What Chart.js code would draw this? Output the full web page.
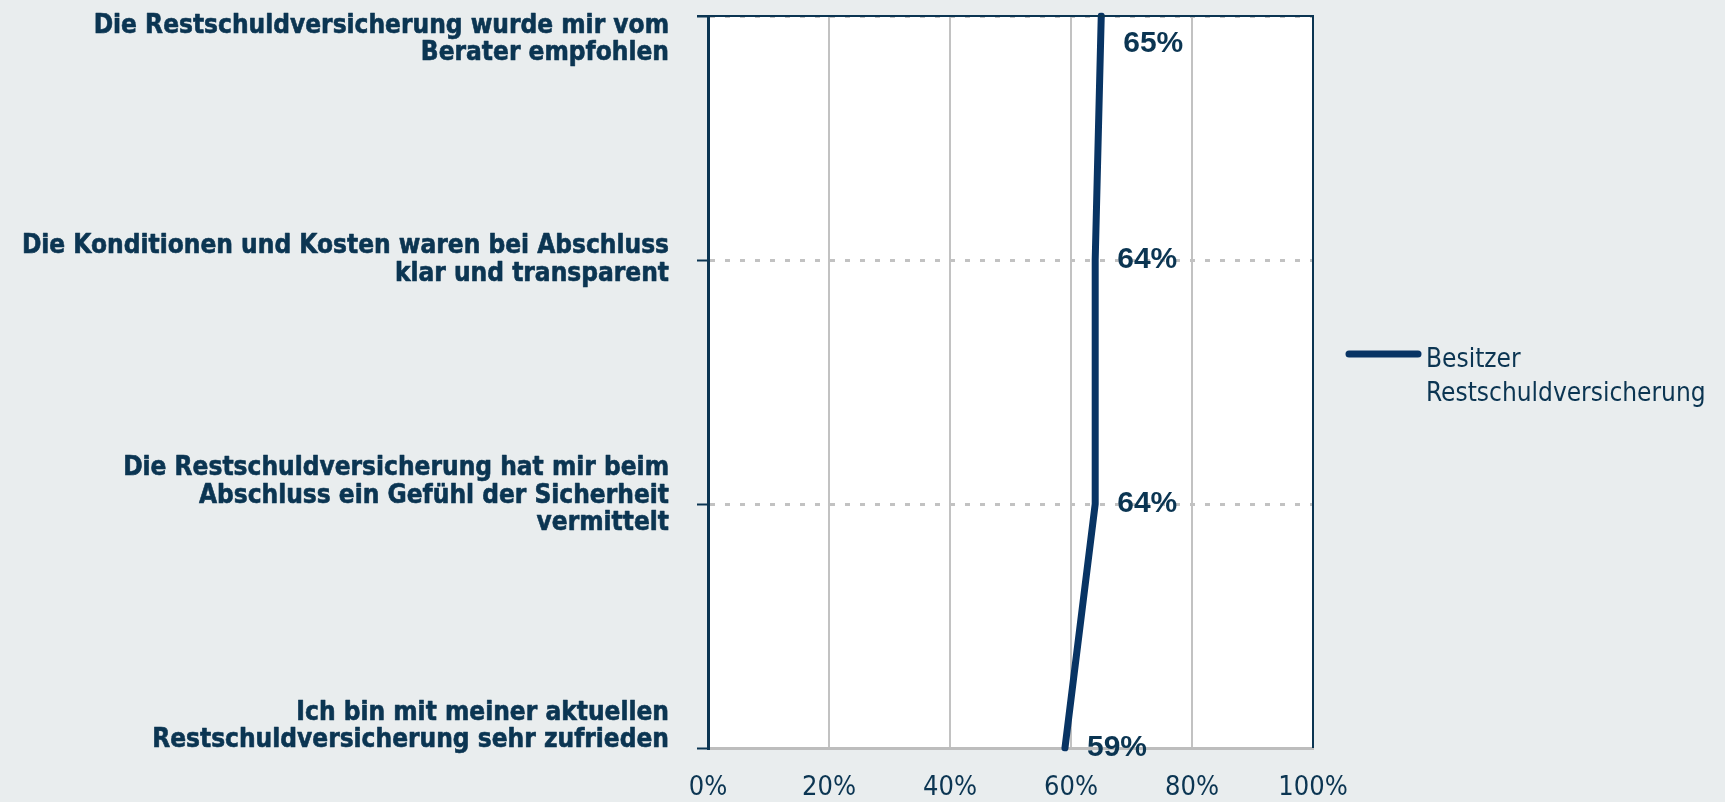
<!DOCTYPE html>
<html>
<head>
<meta charset="utf-8">
<script src="https://cdn.jsdelivr.net/npm/chart.js@4/dist/chart.umd.min.js"></script>
<style>
  body { margin: 0; background: #e9edee; }
  #wrap { width: 1725px; height: 802px; }
</style>
</head>
<body>
<div id="wrap"><canvas id="myChart" width="1725" height="802"></canvas></div>
<script>
// DATA
const categories = [
  ['Die Restschuldversicherung wurde mir vom', 'Berater empfohlen'],
  ['Die Konditionen und Kosten waren bei Abschluss', 'klar und transparent'],
  ['Die Restschuldversicherung hat mir beim', 'Abschluss ein Gefühl der Sicherheit', 'vermittelt'],
  ['Ich bin mit meiner aktuellen', 'Restschuldversicherung sehr zufrieden']
];
const seriesName = ['Besitzer', 'Restschuldversicherung'];
const besitzer = [65, 64, 64, 59];
const xTickValues = [0, 20, 40, 60, 80, 100];

const navy = '#0b3552';
const lineColor = '#083464';
const grey = '#c2c2c2';

// PLUGIN - plot background, borders, labels, legend
const extras = {
  id: 'extras',
  beforeDraw(chart) {
    const { ctx, chartArea: a } = chart;
    ctx.save();
    ctx.fillStyle = '#ffffff';
    ctx.fillRect(a.left, a.top, a.right - a.left, a.bottom - a.top);
    ctx.restore();
  },
  afterDatasetsDraw(chart) {
    const { ctx, chartArea: a } = chart;
    const meta = chart.getDatasetMeta(0);
    ctx.save();
    ctx.font = 'bold 30px "Liberation Sans", Arial, sans-serif';
    ctx.fillStyle = navy;
    ctx.textAlign = 'left';
    ctx.textBaseline = 'middle';
    meta.data.forEach((pt, i) => {
      let y = Math.max(pt.y, a.top + 28);
      ctx.fillText(besitzer[i] + '%', pt.x + 22, y);
    });
    ctx.restore();
  },
  afterDraw(chart) {
    const { ctx, chartArea: a } = chart;
    ctx.save();
    // top + right border
    ctx.strokeStyle = navy;
    ctx.lineWidth = 2;
    ctx.beginPath();
    ctx.moveTo(a.left - 11, a.top);
    ctx.lineTo(a.right, a.top);
    ctx.lineTo(a.right, a.bottom);
    ctx.stroke();

    // category labels
    const yScale = chart.scales.y;
    const lh = 27.5;
    ctx.font = 'bold 26px "DejaVu Sans Condensed", "DejaVu Sans", sans-serif';
    ctx.fillStyle = navy;
    ctx.strokeStyle = navy;
    ctx.lineWidth = 0.6;
    ctx.lineJoin = 'round';
    ctx.textAlign = 'right';
    ctx.textBaseline = 'middle';
    categories.forEach((lines, i) => {
      const yc = yScale.getPixelForTick(i);
      let top = yc - lines.length * lh / 2 - (lines.length > 2 ? 8 : 0);
      top = Math.max(top, 12);
      top = Math.min(top, a.bottom + 6 - lines.length * lh);
      lines.forEach((t, j) => {
        ctx.fillText(t, 669, top + lh * j + lh / 2);
        ctx.strokeText(t, 669, top + lh * j + lh / 2);
      });
    });

    // legend
    ctx.strokeStyle = lineColor;
    ctx.lineWidth = 7;
    ctx.lineCap = 'round';
    ctx.beginPath();
    ctx.moveTo(1349, 354);
    ctx.lineTo(1418, 354);
    ctx.stroke();
    ctx.font = '26px "DejaVu Sans Condensed", "DejaVu Sans", sans-serif';
    ctx.fillStyle = navy;
    ctx.textAlign = 'left';
    ctx.fillText(seriesName[0], 1426, 360);
    ctx.fillText(seriesName[1], 1426, 394);
    ctx.restore();
  }
};

// CHART
let myChart = document.getElementById('myChart').getContext('2d');
window.line = new Chart(myChart, {
  type: 'line',
  data: {
    labels: categories,
    datasets: [{
      label: seriesName.join(' '),
      data: besitzer,
      borderColor: lineColor,
      borderWidth: 7,
      borderCapStyle: 'round',
      pointRadius: 0,
      tension: 0,
      fill: false
    }]
  },
  options: {
    indexAxis: 'y',
    responsive: false,
    animation: false,
    layout: { padding: { left: 0, right: 412, top: 16, bottom: 0 } },
    plugins: {
      legend: { display: false },
      tooltip: { enabled: false }
    },
    scales: {
      x: {
        type: 'linear',
        min: 0,
        max: 100,
        afterBuildTicks: (scale) => { scale.ticks = xTickValues.map(v => ({ value: v })); },
        afterFit: (scale) => { scale.height = 54; },
        ticks: {
          autoSkip: false,
          maxRotation: 0,
          padding: 24,
          color: navy,
          font: { family: '"DejaVu Sans Condensed", "DejaVu Sans", sans-serif', size: 27 },
          callback: (v) => v + '%'
        },
        grid: { color: grey, lineWidth: 2, drawTicks: false },
        border: { color: '#bdbdbd', width: 3 }
      },
      y: {
        type: 'category',
        offset: false,
        afterFit: (scale) => { scale.width = 708; },
        ticks: { autoSkip: false, color: 'rgba(0,0,0,0)', font: { size: 10 } },
        grid: {
          color: grey,
          lineWidth: 3,
          drawTicks: true,
          tickLength: 11,
          tickColor: navy,
          tickWidth: 2,
          tickBorderDash: []
        },
        border: { color: navy, width: 3, dash: [5, 10] }
      }
    }
  },
  plugins: [extras]
});
</script>
</body>
</html>
